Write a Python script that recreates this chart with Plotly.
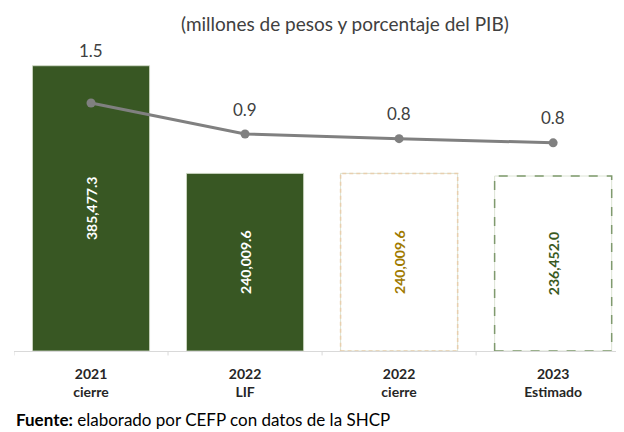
import plotly.graph_objects as go

# datos
categorias = ['2021<br>cierre', '2022<br>LIF', '2022<br>cierre', '2023<br>Estimado']
montos     = [385477.3, 240009.6, 240009.6, 236452.0]
pct_pib    = [1.52, 0.92, 0.83, 0.75]

bar_fill   = ['#385723', '#385723', 'white', 'white']
text_color = ['white', 'white', '#A07A00', '#3A5A1E']
dash_color = [None, None, '#E8CFAE', '#7F9A6E']
dash_style = [None, None, '4px,3px', 'dash']

FONT = 'Lato'
bar_w = 0.76

fig = go.Figure()

fig.add_trace(go.Bar(
    x = list(range(len(categorias))),
    y = montos,
    width = bar_w,
    marker = dict(color = bar_fill, line = dict(color = 'rgba(210,220,200,0.8)', width = 1)),
    text = [f'<b>{v:,.1f}</b>' for v in montos],
    textposition = 'inside',
    insidetextanchor = 'middle',
    textangle = -90,
    textfont = dict(family = FONT, size = 14, color = text_color),
    hoverinfo = 'skip',
    showlegend = False
))

fig.add_trace(go.Scatter(
    x = list(range(len(categorias))),
    y = pct_pib,
    yaxis = 'y2',
    mode = 'lines+markers',
    line = dict(color = '#808080', width = 3),
    marker = dict(color = '#808080', size = 9),
    hoverinfo = 'skip',
    showlegend = False
))

# contornos punteados de las barras estimadas
for i, (v, c, d) in enumerate(zip(montos, dash_color, dash_style)):
    if c is None:
        continue
    fig.add_shape(
        type = 'rect', xref = 'x', yref = 'y',
        x0 = i - bar_w / 2, x1 = i + bar_w / 2, y0 = 0, y1 = v,
        line = dict(color = c, width = 1.5, dash = d),
        fillcolor = 'rgba(0,0,0,0)'
    )

# etiquetas de porcentaje
for i, p in enumerate(pct_pib):
    if i == 0:
        fig.add_annotation(x = i, y = montos[i], yref = 'y', text = f'{p:.1f}',
            showarrow = False, yanchor = 'bottom', yshift = 3,
            font = dict(family = FONT, size = 17, color = '#404040'))
    else:
        fig.add_annotation(x = i, y = p, yref = 'y2', text = f'{p:.1f}',
            showarrow = False, yanchor = 'middle', yshift = 25,
            font = dict(family = FONT, size = 17, color = '#404040'))

fig.add_annotation(
    x = 0.543, y = 1.105, xref = 'paper', yref = 'paper', yanchor = 'middle',
    text = '(millones de pesos y porcentaje del PIB)', showarrow = False,
    font = dict(family = FONT, size = 19, color = '#404040')
)

fig.add_annotation(
    x = 0, y = -0.23, xref = 'paper', yref = 'paper', xanchor = 'left', yanchor = 'middle',
    text = '<b>Fuente:</b> elaborado por CEFP con datos de la SHCP', showarrow = False,
    font = dict(family = FONT, size = 17, color = 'black')
)

fig.update_layout(
    width = 616,
    height = 424,
    margin = dict(l = 6, r = 0, t = 47, b = 81),
    plot_bgcolor = 'white',
    paper_bgcolor = 'white',
    bargap = 0.24,
    xaxis = dict(
        range = [-0.5, 3.46],
        tickmode = 'array',
        tickvals = list(range(len(categorias))),
        ticktext = [f'<b>{c}</b>' for c in categorias],
        showline = True, linecolor = '#D9D9D9', linewidth = 1,
        showgrid = False, zeroline = False,
        ticks = '', ticklabelstandoff = 10,
        tickfont = dict(family = FONT, size = 14, color = '#262626')
    ),
    yaxis = dict(range = [0, 400000], visible = False, showgrid = False),
    yaxis2 = dict(range = [-3.28, 2.45], overlaying = 'y', visible = False, showgrid = False)
)

# marcas entre categorias
for b in [-0.5, 0.5, 1.5, 2.5]:
    fig.add_shape(type = 'line', xref = 'x', yref = 'paper', x0 = b, x1 = b, y0 = 0, y1 = -0.015,
        line = dict(color = '#D9D9D9', width = 1))

fig.write_html('out.html')
